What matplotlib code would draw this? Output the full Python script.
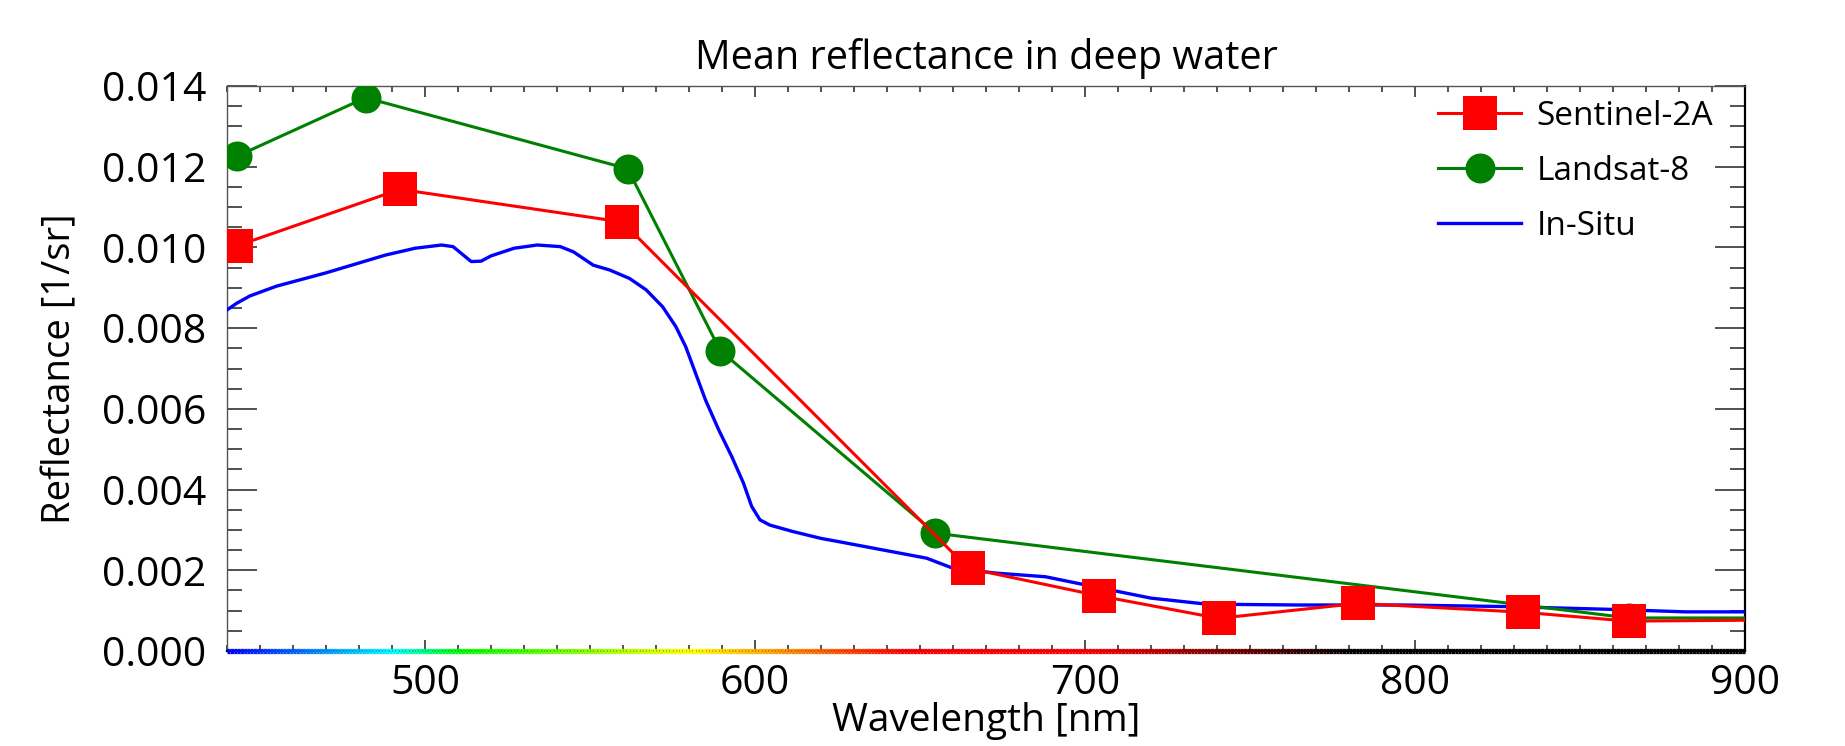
import numpy as np
import matplotlib

matplotlib.use("Agg")
import matplotlib.pyplot as plt
from matplotlib.collections import LineCollection
from matplotlib.ticker import FormatStrFormatter, MultipleLocator

plt.rcParams["font.family"] = ["Open Sans", "DejaVu Sans"]

# band centres (nm) and mean deep-water reflectance (1/sr)
s2_wavelength = [442.7, 492.4, 559.8, 664.6, 704.1, 740.5, 782.8, 832.8, 864.7, 945.1]
s2_reflectance = [0.01003, 0.01144, 0.01063, 0.00205, 0.00137, 0.00081, 0.00118, 0.00096, 0.00074, 0.00079]

l8_wavelength = [443.0, 482.0, 561.4, 589.5, 654.6, 864.7, 1608.5]
l8_reflectance = [0.01226, 0.01371, 0.01195, 0.00744, 0.00292, 0.00082, 0.00079]

insitu_wavelength = [
    440, 443, 447, 455, 470, 488, 497, 505, 508.5, 514, 517, 520, 527, 534,
    541, 545, 551, 556, 562, 567, 572, 576, 579, 582, 585, 589, 593, 596.5,
    599, 601.5, 604.5, 611.5, 620, 626, 639, 652, 660, 673, 688, 703, 720,
    737, 765, 796, 828, 860, 882, 900,
]
insitu_reflectance = [
    0.00845, 0.00862, 0.00880, 0.00904, 0.00937, 0.00981, 0.00998, 0.01006,
    0.01002, 0.00965, 0.00966, 0.00979, 0.00998, 0.01006, 0.01002, 0.00989,
    0.00956, 0.00944, 0.00923, 0.00895, 0.00853, 0.00804, 0.00754, 0.00688,
    0.00622, 0.00548, 0.00481, 0.00416, 0.00358, 0.00325, 0.00312, 0.00296,
    0.00279, 0.00270, 0.00250, 0.00230, 0.00205, 0.00193, 0.00184, 0.00159,
    0.00131, 0.00116, 0.00114, 0.00114, 0.00110, 0.00103, 0.00097, 0.00097,
]


def wavelength_to_rgb(wl):
    if wl < 440:
        r, g, b = 0.0, 0.0, 1.0
    elif wl < 490:
        r, g, b = 0.0, (wl - 440) / 50, 1.0
    elif wl < 510:
        r, g, b = 0.0, 1.0, -(wl - 510) / 20
    elif wl < 580:
        r, g, b = (wl - 510) / 70, 1.0, 0.0
    elif wl < 645:
        r, g, b = 1.0, -(wl - 645) / 65, 0.0
    else:
        r, g, b = 1.0, 0.0, 0.0
    # fade the red end out to black
    fade = 1.0 if wl < 700 else max(0.0, (780 - wl) / 80)
    return (r * fade, g * fade, b * fade)


fig = plt.figure(figsize=(18.45, 7.46), dpi=100)
ax = fig.add_axes([227 / 1845, 1 - 651 / 746, 1518 / 1845, 565 / 746])

ax.plot(insitu_wavelength, insitu_reflectance, color="blue", linewidth=2.4,
        label="In-Situ", zorder=3)
ax.plot(l8_wavelength, l8_reflectance, color="green", linewidth=2.2,
        marker="o", markersize=21.6, markeredgewidth=0, label="Landsat-8", zorder=4)
ax.plot(s2_wavelength, s2_reflectance, color="red", linewidth=2.2,
        marker="s", markersize=23.8, markeredgewidth=0, label="Sentinel-2A", zorder=5)

# visible spectrum strip along the wavelength axis
strip_x = np.arange(440, 901)
segments = [[(strip_x[i], 0), (strip_x[i + 1], 0)] for i in range(len(strip_x) - 1)]
strip = LineCollection(segments, colors=[wavelength_to_rgb(w) for w in strip_x[:-1]],
                       linewidths=3.8, clip_on=False, zorder=6, capstyle="butt")
strip.set_transform(ax.transData)
ax.add_collection(strip)

ax.set_xlim(440, 900)
ax.set_ylim(0, 0.014)
ax.xaxis.set_major_locator(MultipleLocator(100))
ax.xaxis.set_minor_locator(MultipleLocator(10))
ax.yaxis.set_major_locator(MultipleLocator(0.002))
ax.yaxis.set_minor_locator(MultipleLocator(0.0005))
ax.yaxis.set_major_formatter(FormatStrFormatter("%.3f"))

ax.tick_params(axis="both", which="both", direction="in", top=True, right=True,
               color="#222222", width=1.1, labelsize=29.5)
ax.tick_params(axis="x", which="major", length=8, pad=9)
ax.tick_params(axis="x", which="minor", length=4)
ax.tick_params(axis="y", which="major", length=21.5, pad=15)
ax.tick_params(axis="y", which="minor", length=10.5)
for side in ["left", "top"]:
    ax.spines[side].set_linewidth(1.0)
    ax.spines[side].set_color("#555555")
ax.spines["right"].set_linewidth(1.6)
ax.spines["bottom"].set_linewidth(1.6)

ax.set_title("Mean reflectance in deep water", fontsize=28.5, pad=12)
ax.set_xlabel("Wavelength [nm]", fontsize=28)
ax.set_ylabel("Reflectance [1/sr]", fontsize=27.5)
ax.xaxis.set_label_coords(0.5, -0.09)
ax.yaxis.set_label_coords(-0.097, 0.5)

handles, labels = ax.get_legend_handles_labels()
order = [2, 1, 0]
ax.legend([handles[i] for i in order], [labels[i] for i in order],
          loc="upper right", bbox_to_anchor=(1 - 32 / 1518, 1 - 14 / 565),
          frameon=False, fontsize=24, borderpad=0, borderaxespad=0,
          handlelength=2.5, handletextpad=0.45, labelspacing=0.66)

fig.savefig("out.png", dpi=100)
plt.close(fig)
